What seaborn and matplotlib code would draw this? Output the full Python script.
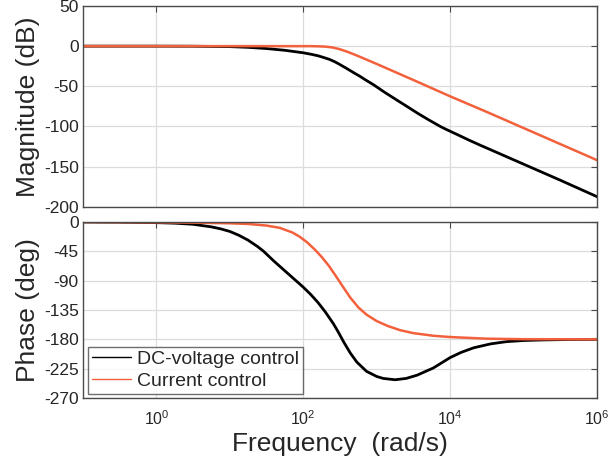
import numpy as np
import pandas as pd
import matplotlib
matplotlib.use("Agg")
import matplotlib.pyplot as plt
import seaborn as sns
from matplotlib.ticker import NullLocator, FixedLocator

# ---------------- data ----------------
series_names = ["DC-voltage control", "Current control"]

# magnitude (dB) vs log10(frequency)
mag_dc_logw = [-1, 0, 0.5, 1.0, 1.25, 1.5, 1.75, 2.0, 2.1, 2.2, 2.28, 2.36, 2.43,
               2.5, 2.6, 2.7, 2.77, 2.85, 2.955, 3.1, 3.25, 3.41, 3.55, 3.7, 3.8,
               3.865, 3.93, 4.0, 4.07, 4.14, 4.25, 4.41, 4.6, 4.8, 5.0, 5.5, 6.0]
mag_dc_db = [0, 0, -0.1, -0.6, -1.5, -3.0, -5.2, -8.3, -10, -12, -14.2, -16.6, -19.5,
             -23, -28.3, -33.8, -37.5, -42.2, -48, -57, -65.8, -75, -83.2, -91.4, -96.6,
             -100, -103, -106, -109, -112, -116.8, -123.4, -131, -139, -147, -167, -187.5]

mag_cur_logw = [-1, 2.0, 2.1, 2.2, 2.3, 2.4, 2.5, 2.6, 2.7, 2.8, 3.0, 3.5, 4.0,
                4.5, 5.0, 5.5, 6.0]
mag_cur_db = [0, 0, 0, -0.2, -0.6, -1.7, -3.9, -7.0, -10.6, -14.4, -22.2, -42.2,
              -62.5, -82, -102, -122, -142]

# phase (deg) vs log10(frequency)
ph_dc_logw = [-1, -0.5, 0, 0.25, 0.5, 0.75, 0.875, 1.0, 1.125, 1.25, 1.375, 1.455,
              1.6, 1.75, 1.89, 2.0, 2.1, 2.2, 2.3, 2.41, 2.48, 2.55, 2.64, 2.73,
              2.86, 3.0, 3.09, 3.25, 3.4, 3.55, 3.77, 4.0, 4.15, 4.32, 4.55, 4.77,
              5.0, 5.23, 5.6, 6.0]
ph_dc_deg = [0, -0.3, -1, -1.8, -3.5, -7.5, -10.5, -14.5, -20.5, -28, -37.5, -44.5,
             -60, -75, -89, -100, -111, -123.5, -138, -156, -169.5, -184, -201, -215,
             -229, -237, -240, -242, -240, -235, -224, -208, -200, -193, -187, -183.5,
             -181.8, -181, -180.3, -180]

ph_cur_logw = [-1, 0, 0.5, 1.0, 1.25, 1.5, 1.68, 1.85, 1.95, 2.05, 2.15, 2.25, 2.35,
               2.45, 2.55, 2.64, 2.75, 2.86, 3.0, 3.15, 3.32, 3.5, 3.77, 4.0, 4.5,
               5.0, 6.0]
ph_cur_deg = [0, -0.5, -1, -2, -3, -5.5, -9, -16, -22.5, -31, -41.5, -53.5, -67.5,
              -84, -101, -116, -131, -142, -152, -159.5, -166, -170.5, -174.5, -176.5,
              -179, -179.8, -180]

mag_ticks = [50, 0, -50, -100, -150, -200]
phase_ticks = [0, -45, -90, -135, -180, -225, -270]
freq_tick_exp = [0, 2, 4, 6]

# ---------------- styling ----------------
sns.set_style("white")
plt.rcParams["font.family"] = ["Liberation Sans", "DejaVu Sans"]
plt.rcParams["mathtext.fontset"] = "custom"
plt.rcParams["mathtext.rm"] = "Liberation Sans"
plt.rcParams["mathtext.it"] = "Liberation Sans:italic"
plt.rcParams["mathtext.bf"] = "Liberation Sans:bold"

BLACK = "#000000"
RED = "#F2603C"
GRID = "#DCDCDC"
FRAME = "#4A4A4A"

def frame(df_logw, vals):
    return pd.DataFrame({"w": np.power(10.0, np.array(df_logw, dtype=float)),
                         "v": np.array(vals, dtype=float)})

fig = plt.figure(figsize=(6.11, 4.62), dpi=100)
ax1 = fig.add_axes([83 / 611, 1 - 206.7 / 462, 514 / 611, 200.7 / 462])
ax2 = fig.add_axes([83 / 611, 1 - 398 / 462, 514 / 611, 176 / 462])

for ax in (ax1, ax2):
    ax.set_xscale("log")

sns.lineplot(data=frame(mag_dc_logw, mag_dc_db), x="w", y="v", ax=ax1,
             color=BLACK, lw=2.0, sort=True, errorbar=None)
sns.lineplot(data=frame(mag_cur_logw, mag_cur_db), x="w", y="v", ax=ax1,
             color=RED, lw=1.8, sort=True, errorbar=None)
sns.lineplot(data=frame(ph_dc_logw, ph_dc_deg), x="w", y="v", ax=ax2,
             color=BLACK, lw=2.0, sort=True, errorbar=None, label=series_names[0])
sns.lineplot(data=frame(ph_cur_logw, ph_cur_deg), x="w", y="v", ax=ax2,
             color=RED, lw=1.8, sort=True, errorbar=None, label=series_names[1])

xt = [10.0 ** e for e in freq_tick_exp]
for ax in (ax1, ax2):
    ax.set_xlim(0.1, 1e6)
    ax.xaxis.set_major_locator(FixedLocator(xt))
    ax.xaxis.set_minor_locator(NullLocator())
    ax.grid(True, color=GRID, lw=0.9)
    ax.set_axisbelow(True)
    for s in ax.spines.values():
        s.set_color(FRAME)
        s.set_linewidth(1.0)
    ax.tick_params(direction="in", length=4, width=0.8, color=FRAME,
                   top=True, right=True, labelsize=12.5, pad=3)
    ax.set_xlabel("")

ax1.set_ylim(-200, 50)
ax1.set_yticks(mag_ticks)
ax1.set_yticklabels([str(t) for t in mag_ticks])
ax1.tick_params(axis="x", labelbottom=False)
ax1.set_ylabel("Magnitude (dB)", fontsize=19)
ax1.yaxis.set_label_coords(-0.083, 0.5)

ax2.set_ylim(-270, 0)
ax2.set_yticks(phase_ticks)
ax2.set_yticklabels([str(t) for t in phase_ticks])
ax2.set_xticklabels([r"$10^{%d}$" % e for e in freq_tick_exp])
ax2.tick_params(axis="x", labelsize=11.5, pad=8)
ax2.set_ylabel("Phase (deg)", fontsize=19)
ax2.yaxis.set_label_coords(-0.083, 0.5)
ax2.set_xlabel("Frequency  (rad/s)", fontsize=19)
ax2.xaxis.set_label_coords(0.5, -0.195)

leg = ax2.legend(loc="lower left", bbox_to_anchor=(0.01, 0.025), borderaxespad=0,
                 fontsize=14, frameon=True, fancybox=False, handlelength=2.0,
                 handletextpad=0.3, borderpad=0.2, labelspacing=0.2)
leg.get_frame().set_edgecolor(FRAME)
leg.get_frame().set_linewidth(1.0)
for h in leg.get_lines():
    h.set_linewidth(1.0)

fig.savefig("out.png", dpi=100)
